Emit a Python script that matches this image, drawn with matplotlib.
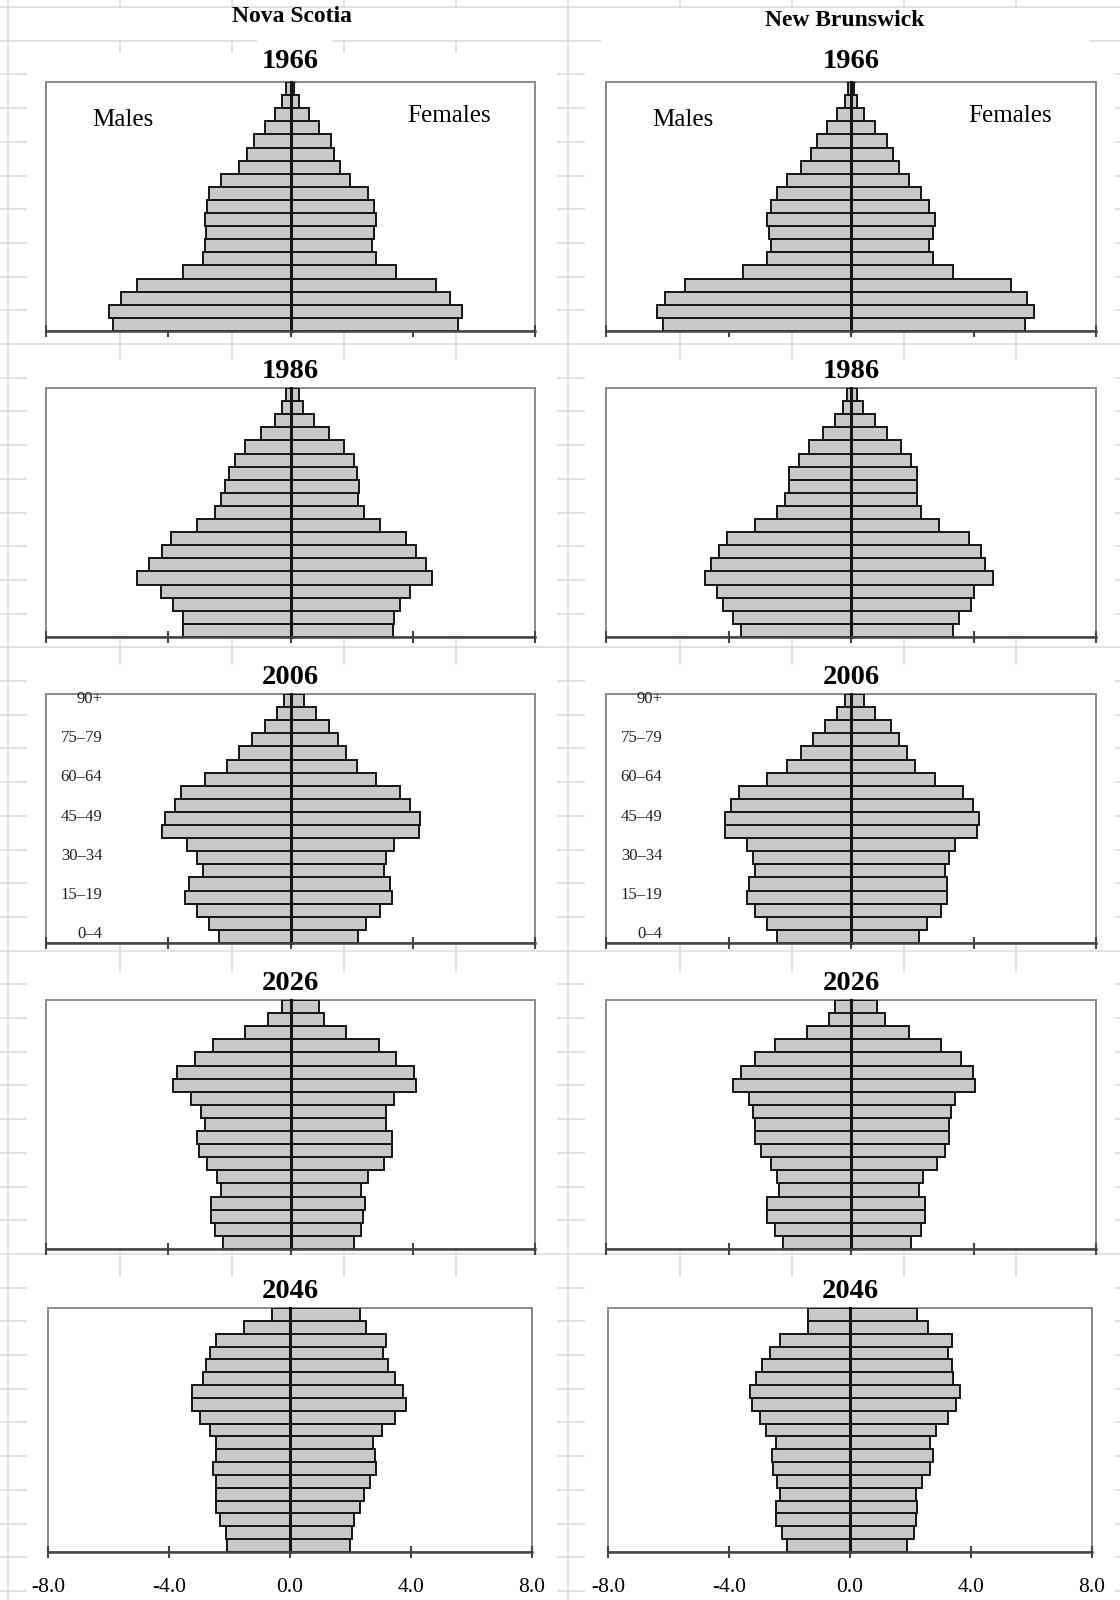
import matplotlib
matplotlib.use("Agg")
import matplotlib.pyplot as plt
import matplotlib.transforms as mtransforms
from matplotlib.patches import Rectangle
import numpy as np

plt.rcParams['font.family'] = ['Liberation Serif', 'DejaVu Serif']
plt.rcParams['axes.unicode_minus'] = False

# age groups, bottom (0-4) to top (90+)
age_groups = ['0–4', '5–9', '10–14', '15–19', '20–24', '25–29', '30–34', '35–39',
              '40–44', '45–49', '50–54', '55–59', '60–64', '65–69', '70–74',
              '75–79', '80–84', '85–89', '90+']
years = ['1966', '1986', '2006', '2026', '2046']
provinces = ['Nova Scotia', 'New Brunswick']

# percent of population, 0-4 first
ns_1966_m = [5.81, 5.94, 5.55, 5.03, 3.52, 2.87, 2.80, 2.75, 2.80, 2.73, 2.66, 2.27, 1.68, 1.43, 1.18, 0.85, 0.52, 0.27, 0.15]
ns_1966_f = [5.49, 5.61, 5.22, 4.77, 3.45, 2.80, 2.68, 2.73, 2.81, 2.73, 2.55, 1.96, 1.63, 1.42, 1.31, 0.92, 0.59, 0.27, 0.12]
ns_1986_m = [3.52, 3.52, 3.86, 4.23, 5.03, 4.63, 4.19, 3.91, 3.07, 2.47, 2.27, 2.15, 2.02, 1.83, 1.49, 0.98, 0.52, 0.27, 0.14]
ns_1986_f = [3.34, 3.39, 3.59, 3.92, 4.64, 4.44, 4.10, 3.79, 2.94, 2.41, 2.22, 2.23, 2.16, 2.09, 1.76, 1.25, 0.78, 0.40, 0.27]
ns_2006_m = [2.34, 2.67, 3.07, 3.46, 3.32, 2.87, 3.07, 3.39, 4.19, 4.12, 3.79, 3.59, 2.80, 2.09, 1.68, 1.25, 0.85, 0.45, 0.20]
ns_2006_f = [2.22, 2.48, 2.94, 3.32, 3.27, 3.07, 3.14, 3.39, 4.19, 4.24, 3.92, 3.59, 2.81, 2.16, 1.83, 1.57, 1.25, 0.85, 0.44]
ns_2026_m = [2.22, 2.48, 2.60, 2.61, 2.29, 2.41, 2.74, 3.00, 3.07, 2.80, 2.94, 3.27, 3.86, 3.73, 3.14, 2.54, 1.49, 0.72, 0.27]
ns_2026_f = [2.09, 2.30, 2.36, 2.43, 2.30, 2.55, 3.07, 3.32, 3.32, 3.14, 3.14, 3.39, 4.12, 4.05, 3.46, 2.88, 1.83, 1.11, 0.92]
ns_2046_m = [2.07, 2.12, 2.31, 2.46, 2.44, 2.46, 2.53, 2.43, 2.44, 2.64, 2.98, 3.23, 3.23, 2.86, 2.79, 2.63, 2.46, 1.51, 0.59]
ns_2046_f = [1.98, 2.04, 2.10, 2.31, 2.43, 2.64, 2.83, 2.82, 2.76, 3.05, 3.48, 3.83, 3.75, 3.48, 3.23, 3.09, 3.16, 2.50, 2.30]

nb_1966_m = [6.13, 6.32, 6.06, 5.41, 3.52, 2.73, 2.60, 2.67, 2.73, 2.61, 2.41, 2.09, 1.62, 1.31, 1.11, 0.79, 0.45, 0.20, 0.10]
nb_1966_f = [5.67, 5.99, 5.75, 5.22, 3.34, 2.68, 2.55, 2.67, 2.74, 2.55, 2.29, 1.90, 1.57, 1.36, 1.17, 0.77, 0.44, 0.20, 0.10]
nb_1986_m = [3.59, 3.86, 4.19, 4.37, 4.77, 4.57, 4.30, 4.05, 3.14, 2.41, 2.16, 2.02, 2.02, 1.69, 1.36, 0.92, 0.52, 0.27, 0.14]
nb_1986_f = [3.34, 3.53, 3.92, 4.03, 4.64, 4.37, 4.24, 3.86, 2.88, 2.29, 2.16, 2.16, 2.16, 1.96, 1.63, 1.18, 0.78, 0.40, 0.20]
nb_2006_m = [2.41, 2.74, 3.14, 3.39, 3.32, 3.14, 3.20, 3.39, 4.12, 4.12, 3.92, 3.65, 2.74, 2.09, 1.63, 1.25, 0.85, 0.45, 0.20]
nb_2006_f = [2.23, 2.48, 2.94, 3.14, 3.14, 3.07, 3.21, 3.39, 4.12, 4.19, 3.99, 3.66, 2.74, 2.09, 1.83, 1.57, 1.31, 0.78, 0.44]
nb_2026_m = [2.22, 2.48, 2.74, 2.74, 2.34, 2.41, 2.61, 2.94, 3.14, 3.14, 3.20, 3.32, 3.86, 3.59, 3.14, 2.48, 1.43, 0.72, 0.52]
nb_2026_f = [1.96, 2.30, 2.43, 2.43, 2.23, 2.36, 2.81, 3.07, 3.21, 3.21, 3.27, 3.39, 4.05, 3.99, 3.59, 2.94, 1.90, 1.11, 0.85]
nb_2046_m = [2.07, 2.26, 2.46, 2.46, 2.31, 2.40, 2.53, 2.59, 2.46, 2.79, 2.98, 3.25, 3.31, 3.12, 2.92, 2.64, 2.31, 1.39, 1.39]
nb_2046_f = [1.90, 2.10, 2.17, 2.23, 2.17, 2.37, 2.63, 2.76, 2.63, 2.83, 3.23, 3.49, 3.64, 3.42, 3.36, 3.23, 3.36, 2.57, 2.23]

data = {
    ('Nova Scotia', '1966'): (ns_1966_m, ns_1966_f),
    ('Nova Scotia', '1986'): (ns_1986_m, ns_1986_f),
    ('Nova Scotia', '2006'): (ns_2006_m, ns_2006_f),
    ('Nova Scotia', '2026'): (ns_2026_m, ns_2026_f),
    ('Nova Scotia', '2046'): (ns_2046_m, ns_2046_f),
    ('New Brunswick', '1966'): (nb_1966_m, nb_1966_f),
    ('New Brunswick', '1986'): (nb_1986_m, nb_1986_f),
    ('New Brunswick', '2006'): (nb_2006_m, nb_2006_f),
    ('New Brunswick', '2026'): (nb_2026_m, nb_2026_f),
    ('New Brunswick', '2046'): (nb_2046_m, nb_2046_f),
}

xticks = [-8, -4, 0, 4, 8]
xtick_labels = ['-8.0', '-4.0', '0.0', '4.0', '8.0']

W, H = 1120, 1600
fig = plt.figure(figsize=(W / 100, H / 100), dpi=100)

# spreadsheet-like background
bg = fig.add_axes([0, 0, 1, 1], zorder=-1)
bg.set_xlim(0, W)
bg.set_ylim(H, 0)
bg.axis('off')
grid_col = '#dddddd'
bg.hlines(np.arange(7, H, 33.7), 0, W, color=grid_col, lw=1.2, zorder=1)
bg.vlines(np.arange(8, W + 10, 112), 0, H, color=grid_col, lw=1.2, zorder=1)
# header cells and chart objects hide the grid
cover = [(9, 8, 558, 32), (569, 8, 551, 32), (601, 30, 488, 22), (257, 30, 75, 22)]
for r in range(5):
    top = 53 + 306 * r
    h = 280 if r < 4 else H - top
    for left in (27, 585):
        cover.append((left, top, 530, h))
for (x0, y0, w, h) in cover:
    bg.add_patch(Rectangle((x0, y0), w, h, fc='white', ec='none', zorder=3))

fig.text(292 / W, 1 - 17 / H, provinces[0], ha='center', va='center',
         fontsize=17, fontweight='bold')
fig.text(845 / W, 1 - 20 / H, provinces[1], ha='center', va='center',
         fontsize=17, fontweight='bold')

y = np.arange(len(age_groups))
bar_col = '#c8c9cb'

for c, prov in enumerate(provinces):
    for r, yr in enumerate(years):
        if r < 4:
            left = [46, 606][c]
            right = [535, 1096][c]
            top = 82 + 306 * r
            bottom = 331 + 306 * r
        else:
            left = [48, 608][c]
            right = [532, 1092][c]
            top = 1308
            bottom = 1552
        ax = fig.add_axes([left / W, 1 - bottom / H, (right - left) / W, (bottom - top) / H])
        males, females = data[(prov, yr)]
        ax.barh(y, -np.array(males), height=1.0, color=bar_col,
                edgecolor='#151515', linewidth=1.4, zorder=2)
        ax.barh(y, females, height=1.0, color=bar_col,
                edgecolor='#151515', linewidth=1.4, zorder=2)
        ax.set_xlim(-8, 8)
        ax.set_ylim(-0.5, len(age_groups) - 0.5)

        # plot area border
        ax.add_patch(Rectangle((0, 0), 1, 1, transform=ax.transAxes, fill=False,
                               ec='#8a8a8a', lw=1.4, zorder=1, clip_on=False))
        ax.spines['top'].set_visible(False)
        ax.spines['right'].set_visible(False)
        ax.spines['bottom'].set_color('#444444')
        ax.spines['bottom'].set_linewidth(1.8)
        ax.spines['bottom'].set_zorder(3)
        ax.spines['left'].set_position(('data', 0))
        ax.spines['left'].set_color('#151515')
        ax.spines['left'].set_linewidth(2.2)
        ax.spines['left'].set_zorder(3)

        ax.set_xticks(xticks)
        ax.tick_params(axis='x', direction='inout', length=9, width=1.5,
                       color='#444444', labelsize=15.5, pad=14)
        if r == 4:
            ax.set_xticklabels(xtick_labels)
        else:
            ax.set_xticklabels([])
        ax.set_yticks(np.arange(len(age_groups) + 1) - 0.5)
        ax.tick_params(axis='y', direction='inout', length=7, width=1.0,
                       color='#555555', labelleft=False)

        ax.set_title(yr, fontsize=20.5, fontweight='bold', pad=10 if r == 0 else 7)

        if yr == '2006':
            trans = mtransforms.blended_transform_factory(ax.transAxes, ax.transData)
            for i, lab in enumerate(age_groups):
                if i % 3 == 0:
                    ax.text(0.115, i + 0.15, lab, transform=trans, ha='right',
                            va='center', fontsize=12, color='#222222')
        if r == 0:
            ax.text(0.157, 0.848, 'Males', transform=ax.transAxes,
                    ha='center', va='center', fontsize=18)
            ax.text(0.824, 0.864, 'Females', transform=ax.transAxes,
                    ha='center', va='center', fontsize=18)

fig.savefig('out.png', dpi=100, facecolor='white')
